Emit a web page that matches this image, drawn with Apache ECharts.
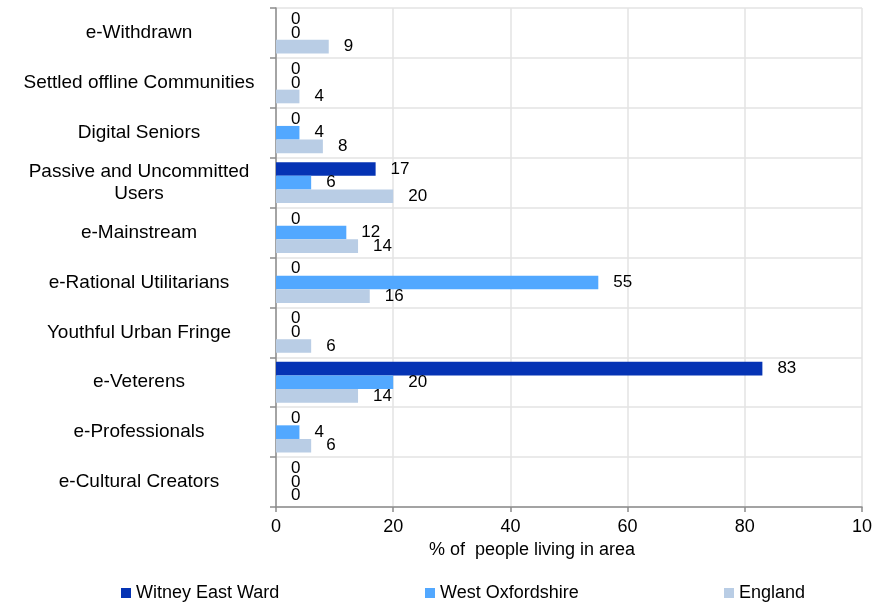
<!DOCTYPE html>
<html>
<head>
<meta charset="utf-8">
<script src="https://cdn.jsdelivr.net/npm/echarts@6/dist/echarts.min.js"></script>
<style>
html,body{margin:0;padding:0;background:#fff;}
#main{width:879px;height:603px;}
</style>
</head>
<body>
<div id="main"></div>
<script>
// categories top to bottom
var categories = ['e-Withdrawn', 'Settled offline Communities', 'Digital Seniors', 'Passive and Uncommitted\nUsers',
	'e-Mainstream', 'e-Rational Utilitarians', 'Youthful Urban Fringe', 'e-Veterens', 'e-Professionals', 'e-Cultural Creators'];
var witneyEast = [0, 0, 0, 17, 0, 0, 0, 83, 0, 0];
var westOxon = [0, 0, 4, 6, 12, 55, 0, 20, 4, 0];
var england = [9, 4, 8, 20, 14, 16, 6, 14, 6, 0];
var xTicks = [0, 20, 40, 60, 80, 100];

var fontFam = 'Liberation Sans, Arial, sans-serif';
var axisGrey = '#8c8c8c';

function makeSeries(name, data, color){
	return {
		name: name,
		type: 'bar',
		data: data,
		barGap: '0%',
		barCategoryGap: '18%',
		itemStyle: {color: color},
		label: {
			show: true,
			position: 'right',
			distance: 15,
			color: '#000',
			fontSize: 17,
			fontFamily: fontFam
		}
	};
}

function legendAt(left, name){
	return {
		left: left,
		top: 579,
		data: [name],
		icon: 'rect',
		itemWidth: 10,
		itemHeight: 10,
		itemGap: 6,
		textStyle: {fontSize: 18, color: '#000', fontFamily: fontFam}
	};
}

var option = {
	backgroundColor: '#fff',
	animation: false,
	grid: {left: 276, top: 8, right: 17, bottom: 96},
	legend: [
		legendAt(116, 'Witney East Ward'),
		legendAt(420, 'West Oxfordshire'),
		legendAt(719, 'England')
	],
	xAxis: {
		type: 'value',
		min: 0,
		max: 100,
		interval: 20,
		name: '% of  people living in area',
		nameLocation: 'middle',
		nameGap: 32,
		nameTextStyle: {fontSize: 18, color: '#000', fontFamily: fontFam, padding: [0, 74, 0, 0]},
		axisLine: {show: true, lineStyle: {color: axisGrey, width: 1.5}},
		axisTick: {show: true, length: 5, lineStyle: {color: axisGrey, width: 1.5}},
		axisLabel: {
			fontSize: 18, color: '#000', fontFamily: fontFam, margin: 11,
			// the last tick label is cut to "10" in the source picture
			formatter: function (v) { return v === xTicks[xTicks.length - 1] ? '10' : String(v); }
		},
		splitLine: {show: true, lineStyle: {color: '#e3e3e3', width: 1.5}}
	},
	yAxis: {
		type: 'category',
		inverse: true,
		data: categories,
		axisLine: {show: true, lineStyle: {color: axisGrey, width: 1.5}},
		axisTick: {show: true, length: 6, lineStyle: {color: axisGrey, width: 1.5}},
		axisLabel: {
			fontSize: 19, color: '#000', fontFamily: fontFam,
			align: 'center', margin: 137, lineHeight: 22
		},
		splitLine: {show: true, lineStyle: {color: '#e3e3e3', width: 1.5}}
	},
	series: [
		makeSeries('Witney East Ward', witneyEast, '#0533b4'),
		makeSeries('West Oxfordshire', westOxon, '#52a8ff'),
		makeSeries('England', england, '#b9cde5')
	]
};

var chart = echarts.init(document.getElementById('main'));
chart.setOption(option);
</script>
</body>
</html>
